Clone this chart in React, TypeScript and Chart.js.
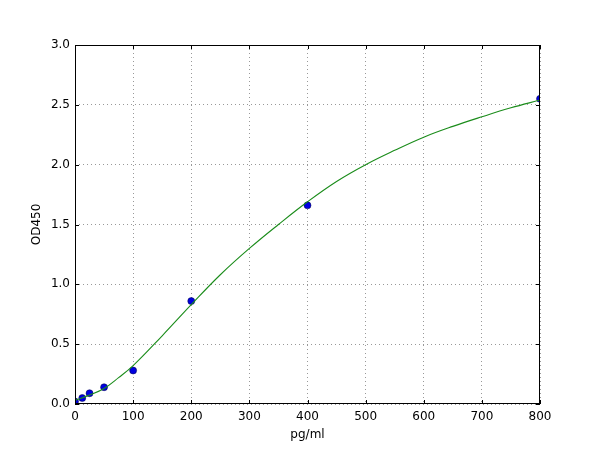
import { useEffect, useRef } from 'react'
import { Chart, registerables } from 'chart.js'

Chart.register(...registerables)

// measured standards
const standardConc = [0, 12.5, 25, 50, 100, 200, 400, 800]
const standardOD = [0.02, 0.05, 0.09, 0.14, 0.28, 0.86, 1.66, 2.55]

// fitted curve
const curveConc = [0, 25, 50, 75, 100, 150, 200, 250, 300, 350, 400, 450, 500, 550, 600, 650, 700, 750, 800]
const curveOD = [0.03, 0.075, 0.13, 0.22, 0.32, 0.57, 0.83, 1.08, 1.3, 1.5, 1.69, 1.86, 2.0, 2.12, 2.23, 2.32, 2.4, 2.475, 2.54]

const xTicks = [0, 100, 200, 300, 400, 500, 600, 700, 800]
const yTicks = [0, 0.5, 1.0, 1.5, 2.0, 2.5, 3.0]

const FONT = 'DejaVu Sans'

// inward tick marks on all four sides plus the frame
const framePlugin = {
  id: 'frame',
  afterDatasetsDraw(chart: Chart) {
    const { ctx, chartArea: a, scales } = chart
    const len = 4
    ctx.save()
    ctx.strokeStyle = '#000'
    ctx.lineWidth = 1
    ctx.beginPath()
    xTicks.forEach((v) => {
      const x = Math.round(scales.x.getPixelForValue(v)) + 0.5
      ctx.moveTo(x, a.bottom)
      ctx.lineTo(x, a.bottom - len)
      ctx.moveTo(x, a.top)
      ctx.lineTo(x, a.top + len)
    })
    yTicks.forEach((v) => {
      const y = Math.round(scales.y.getPixelForValue(v)) + 0.5
      ctx.moveTo(a.left, y)
      ctx.lineTo(a.left + len, y)
      ctx.moveTo(a.right, y)
      ctx.lineTo(a.right - len, y)
    })
    ctx.stroke()
    ctx.strokeRect(a.left + 0.5, a.top + 0.5, a.right - a.left - 1, a.bottom - a.top - 1)
    ctx.restore()
  }
}

export default function App() {
  const canvasRef = useRef<HTMLCanvasElement>(null)

  useEffect(() => {
    if (!canvasRef.current) return
    const chart = new Chart(canvasRef.current, {
      type: 'scatter',
      data: {
        datasets: [
          {
            type: 'line',
            label: 'fit',
            data: curveConc.map((x, i) => ({ x, y: curveOD[i] })),
            borderColor: '#1a8c1a',
            borderWidth: 1.1,
            pointRadius: 0,
            tension: 0.4,
            fill: false
          },
          {
            label: 'standards',
            data: standardConc.map((x, i) => ({ x, y: standardOD[i] })),
            backgroundColor: '#0000e0',
            borderColor: '#000040',
            borderWidth: 0.5,
            pointRadius: 3.5,
            clip: 0
          }
        ]
      },
      options: {
        animation: false,
        responsive: false,
        layout: { padding: { top: 45, right: 60, left: 30, bottom: 0 } },
        plugins: {
          legend: { display: false },
          tooltip: { enabled: false }
        },
        scales: {
          x: {
            type: 'linear',
            min: 0,
            max: 800,
            afterBuildTicks: (s: any) => { s.ticks = xTicks.map((value) => ({ value })) },
            afterFit: (s: any) => { s.height = 46 },
            grid: { color: 'rgba(0,0,0,0.5)', lineWidth: 0.8, drawTicks: false },
            border: { display: false, dash: [1, 3] },
            ticks: { color: '#000', padding: 6, font: { family: FONT, size: 12 } },
            title: { display: true, text: 'pg/ml', color: '#000', padding: { top: 0, bottom: 8 }, font: { family: FONT, size: 12 } }
          },
          y: {
            type: 'linear',
            min: 0,
            max: 3,
            afterBuildTicks: (s: any) => { s.ticks = yTicks.map((value) => ({ value })) },
            afterFit: (s: any) => { s.width = 45 },
            grid: { color: 'rgba(0,0,0,0.5)', lineWidth: 0.8, drawTicks: false },
            border: { display: false, dash: [1, 3] },
            ticks: {
              color: '#000',
              padding: 5,
              font: { family: FONT, size: 12 },
              callback: (v: any) => Number(v).toFixed(1)
            },
            title: { display: true, text: 'OD450', color: '#000', padding: 0, font: { family: FONT, size: 12 } }
          }
        }
      },
      plugins: [framePlugin]
    })
    return () => chart.destroy()
  }, [])

  return (
    <div style={{ position: 'absolute', left: 0, top: 0, width: 600, height: 450, background: '#fff' }}>
      <canvas ref={canvasRef} width={600} height={450}></canvas>
    </div>
  )
}
